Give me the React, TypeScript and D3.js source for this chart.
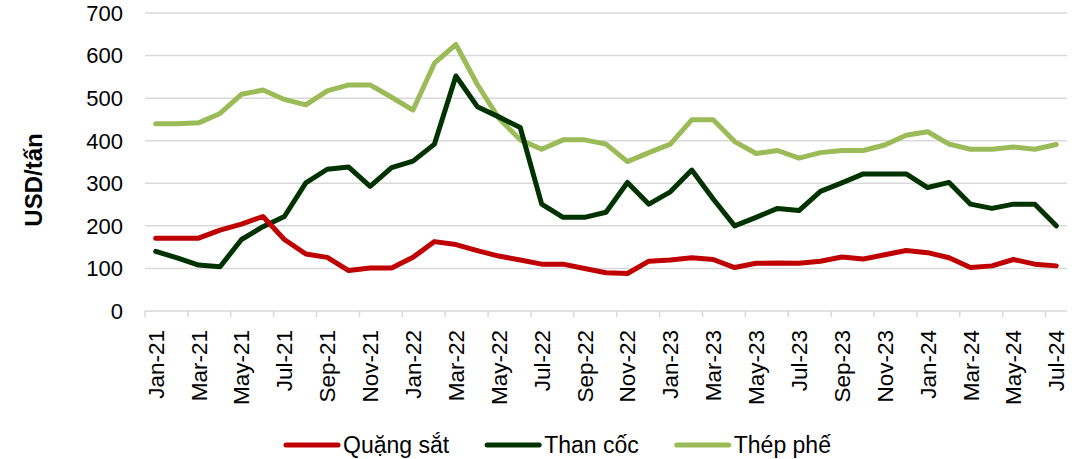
import React, { useRef, useEffect } from "react";
import * as d3 from "d3";

// months Jan-21 .. Jul-24
const months = [
  "Jan-21", "Feb-21", "Mar-21", "Apr-21", "May-21", "Jun-21", "Jul-21", "Aug-21", "Sep-21", "Oct-21", "Nov-21", "Dec-21",
  "Jan-22", "Feb-22", "Mar-22", "Apr-22", "May-22", "Jun-22", "Jul-22", "Aug-22", "Sep-22", "Oct-22", "Nov-22", "Dec-22",
  "Jan-23", "Feb-23", "Mar-23", "Apr-23", "May-23", "Jun-23", "Jul-23", "Aug-23", "Sep-23", "Oct-23", "Nov-23", "Dec-23",
  "Jan-24", "Feb-24", "Mar-24", "Apr-24", "May-24", "Jun-24", "Jul-24",
];

const quangSat = [
  171, 171, 171, 190, 204, 222, 168, 134, 126, 95, 101, 101,
  126, 163, 156, 142, 129, 120, 110, 110, 100, 90, 88, 117,
  120, 125, 121, 102, 112, 113, 112, 117, 127, 122, 132, 142,
  137, 125, 102, 106, 121, 110, 106,
];

const thanCoc = [
  140, 125, 108, 104, 168, 198, 222, 301, 333, 338, 293, 337,
  352, 392, 552, 480, 456, 431, 251, 220, 220, 232, 302, 251,
  280, 331, 263, 200, 220, 241, 236, 281, 301, 322, 322, 322,
  290, 302, 251, 241, 251, 251, 200,
];

const thepPhe = [
  440, 440, 442, 464, 509, 519, 497, 484, 517, 531, 531, 502,
  472, 582, 626, 532, 453, 402, 380, 402, 402, 392, 351, 372,
  392, 449, 449, 398, 370, 377, 359, 372, 377, 377, 390, 413,
  421, 392, 380, 380, 385, 380, 391,
];

const yTicks = [0, 100, 200, 300, 400, 500, 600, 700];

const seriesNames = ["Quặng sắt", "Than cốc", "Thép phế"];
const seriesColors = ["#C00000", "#003300", "#9BBB59"];

const FONT = "Liberation Sans, Arial, sans-serif";

export default function App() {
  const ref = useRef<SVGSVGElement>(null);

  useEffect(() => {
    const svg = d3.select(ref.current);
    svg.selectAll("*").remove();

    const left = 145, right = 1067, top = 13, bottom = 311;

    const x = d3.scaleBand().domain(months).range([left, right]);
    const y = d3.scaleLinear().domain([0, 700]).range([bottom, top]);

    // gridlines
    svg.append("g")
      .selectAll("line")
      .data(yTicks)
      .join("line")
      .attr("x1", left)
      .attr("x2", right)
      .attr("y1", (d) => y(d))
      .attr("y2", (d) => y(d))
      .attr("stroke", "#d9d9d9")
      .attr("stroke-width", 1.5);

    // y labels
    svg.append("g")
      .selectAll("text")
      .data(yTicks)
      .join("text")
      .attr("x", left - 22)
      .attr("y", (d) => y(d))
      .attr("dy", "0.36em")
      .attr("text-anchor", "end")
      .attr("font-family", FONT)
      .attr("font-size", 22)
      .attr("fill", "#000")
      .text((d) => d);

    // y title
    svg.append("text")
      .attr("transform", `translate(42, 180) rotate(-90)`)
      .attr("text-anchor", "middle")
      .attr("font-family", FONT)
      .attr("font-size", 24)
      .attr("font-weight", "bold")
      .attr("fill", "#000")
      .text("USD/tấn");

    // x axis ticks every 2 months (category boundaries)
    const bw = x.bandwidth();
    const tickIdx = d3.range(0, months.length, 2);
    svg.append("g")
      .selectAll("line")
      .data(tickIdx)
      .join("line")
      .attr("x1", (i) => (x(months[i]) as number))
      .attr("x2", (i) => (x(months[i]) as number))
      .attr("y1", bottom)
      .attr("y2", bottom + 6)
      .attr("stroke", "#d9d9d9")
      .attr("stroke-width", 1.5);

    svg.append("g")
      .selectAll("text")
      .data(tickIdx)
      .join("text")
      .attr("transform", (i) => `translate(${(x(months[i]) as number) + bw / 2 + 8}, ${bottom + 19}) rotate(-90)`)
      .attr("text-anchor", "end")
      .attr("font-family", FONT)
      .attr("font-size", 22.5)
      .attr("fill", "#000")
      .text((i) => months[i]);

    // lines
    const allSeries = [quangSat, thanCoc, thepPhe];
    const line = d3.line<number>()
      .x((_, i) => (x(months[i]) as number) + bw / 2)
      .y((d) => y(d));

    [2, 1, 0].forEach((s) => {
      svg.append("path")
        .attr("d", line(allSeries[s]))
        .attr("fill", "none")
        .attr("stroke", seriesColors[s])
        .attr("stroke-width", 5)
        .attr("stroke-linejoin", "round")
        .attr("stroke-linecap", "round");
    });

    // legend
    const legendY = 445;
    let lx = 286;
    seriesNames.forEach((name, s) => {
      const g = svg.append("g").attr("transform", `translate(${lx}, ${legendY})`);
      g.append("line")
        .attr("x1", 0)
        .attr("x2", 52)
        .attr("y1", 0)
        .attr("y2", 0)
        .attr("stroke", seriesColors[s])
        .attr("stroke-width", 5)
        .attr("stroke-linecap", "round");
      const t = g.append("text")
        .attr("x", 57)
        .attr("y", 0)
        .attr("dy", "0.36em")
        .attr("font-family", FONT)
        .attr("font-size", 23)
        .attr("fill", "#000")
        .text(name);
      const w = (t.node() as SVGTextElement).getComputedTextLength();
      lx += 57 + w + 38;
    });
  }, []);

  return (
    <svg
      ref={ref}
      width={1084}
      height={459}
      style={{ position: "absolute", left: 0, top: 0, background: "#fff" }}
    />
  );
}
